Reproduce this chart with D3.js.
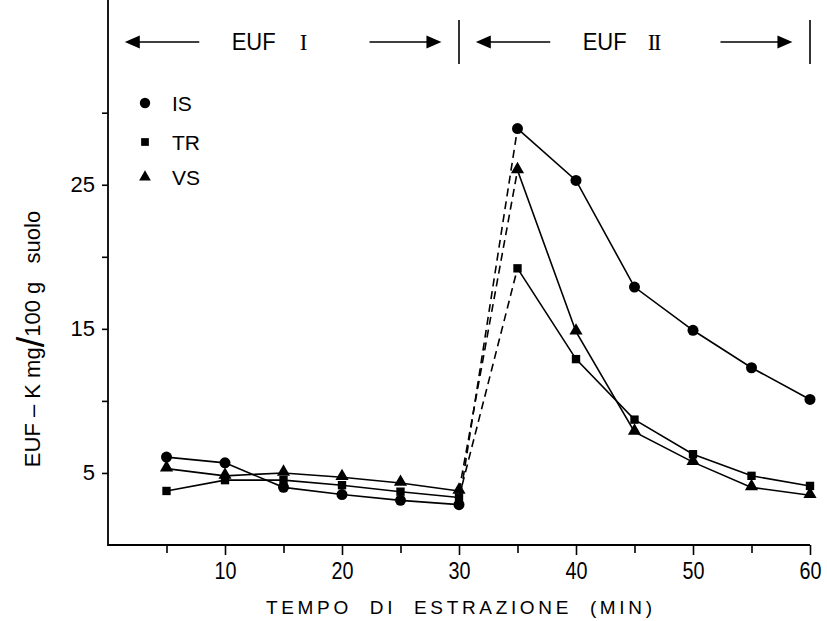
<!DOCTYPE html>
<html>
<head>
<meta charset="utf-8">
<script src="https://cdn.jsdelivr.net/npm/d3@7"></script>
<style>
  html, body { margin: 0; padding: 0; background: #fff; }
  svg { display: block; }
  text { fill: #000; }
</style>
</head>
<body>
<script>
// Extraction times (minutes)
const times = [5, 10, 15, 20, 25, 30, 35, 40, 45, 50, 55, 60];

// EUF-K (mg / 100 g soil) per soil
const valuesIS = [6.1, 5.7, 4.0, 3.5, 3.1, 2.8, 28.9, 25.3, 17.9, 14.9, 12.3, 10.1];
const valuesTR = [3.75, 4.5, 4.5, 4.15, 3.7, 3.3, 19.2, 12.9, 8.7, 6.3, 4.8, 4.1];
const valuesVS = [5.3, 4.8, 5.0, 4.7, 4.3, 3.75, 26.0, 14.8, 7.85, 5.75, 4.0, 3.45];

const seriesNames = ["IS", "TR", "VS"];
const seriesShapes = ["circle", "square", "triangle"];

const xTickValues = [5, 10, 15, 20, 25, 30, 35, 40, 45, 50, 55, 60];
const xTickLabels = [10, 20, 30, 40, 50, 60];
const yTickValues = [5, 10, 15, 20, 25, 30];
const yTickLabels = [5, 15, 25];

// Phase bands drawn in the header
const phases = [
  { label: "EUF", numeral: "I", from: 0, to: 30 },
  { label: "EUF", numeral: "II", from: 30, to: 60 }
];

const W = 827, H = 621;
const sans = "'Liberation Sans', Arial, Helvetica, sans-serif";

const svg = d3.select("body").append("svg")
  .attr("width", W).attr("height", H)
  .attr("viewBox", `0 0 ${W} ${H}`);

svg.append("rect").attr("width", W).attr("height", H).attr("fill", "#fff");

const x = d3.scaleLinear().domain([0, 60]).range([108, 810]);
const y = d3.scaleLinear().domain([0, 30]).range([545, 112.7]);

// ---- axes ----
const xAxis = d3.axisBottom(x)
  .tickValues(xTickValues)
  .tickSize(10)
  .tickPadding(6)
  .tickFormat(d => xTickLabels.includes(d) ? String(d) : "");

const gx = svg.append("g").attr("transform", `translate(0,${y(0)})`).call(xAxis);
gx.select(".domain").remove();
gx.selectAll(".tick line")
  .attr("stroke", "#000").attr("stroke-width", 1.6)
  .attr("y2", d => xTickLabels.includes(d) ? 10 : 8);
// condensed digits
gx.selectAll(".tick text")
  .attr("font-family", sans).attr("font-size", 23)
  .attr("dy", "0.72em").attr("y", 17)
  .attr("textLength", d => xTickLabels.includes(d) ? 22 : null)
  .attr("lengthAdjust", "spacingAndGlyphs");
gx.append("line")
  .attr("x1", x(0)).attr("x2", x(60))
  .attr("stroke", "#000").attr("stroke-width", 1.8);

const yAxis = d3.axisLeft(y)
  .tickValues(yTickValues)
  .tickSize(6)
  .tickPadding(7)
  .tickFormat(d => yTickLabels.includes(d) ? String(d) : "");

const gy = svg.append("g").attr("transform", `translate(${x(0)},0)`).call(yAxis);
gy.select(".domain").remove();
gy.selectAll(".tick line").attr("stroke", "#000").attr("stroke-width", 1.6);
gy.selectAll(".tick text")
  .attr("font-family", sans).attr("font-size", 22);
gy.append("line")
  .attr("y1", y(0) + 1).attr("y2", 0)
  .attr("stroke", "#000").attr("stroke-width", 1.8);

// ---- axis titles ----
svg.append("text")
  .attr("x", x(30)).attr("y", 614)
  .attr("text-anchor", "middle")
  .attr("font-family", sans).attr("font-size", 19)
  .attr("textLength", 386).attr("lengthAdjust", "spacing")
  .style("white-space", "pre")
  .text("TEMPO  DI  ESTRAZIONE  (MIN)");

const yTitle = svg.append("text")
  .attr("transform", `translate(40,339) rotate(-90)`)
  .attr("text-anchor", "middle")
  .attr("font-family", sans).attr("font-size", 22)
  .style("white-space", "pre");
yTitle.append("tspan").text("EUF – K mg");
yTitle.append("tspan").attr("font-size", 38).attr("dy", 4).text("/");
yTitle.append("tspan").attr("dy", -4).text("100 g   suolo");

// ---- header: phases with arrows ----
const header = svg.append("g");
const hy = 42;
function arrowHead(tipX, dir) {
  const len = 15, half = 6.5;
  return `M${tipX},${hy} L${tipX - dir * len},${hy - half} L${tipX - dir * len},${hy + half} Z`;
}
phases.forEach(p => {
  const a = x(p.from), b = x(p.to);
  const span = b - a;
  header.append("line")
    .attr("x1", b).attr("x2", b).attr("y1", 20).attr("y2", 64)
    .attr("stroke", "#000").attr("stroke-width", 1.6);
  const lTip = a + span * 0.045 + 1, lEnd = a + span * 0.26;
  const rStart = a + span * 0.745, rTip = a + span * 0.95;
  header.append("line").attr("x1", lTip + 10).attr("x2", lEnd)
    .attr("y1", hy).attr("y2", hy).attr("stroke", "#000").attr("stroke-width", 1.6);
  header.append("path").attr("d", arrowHead(lTip, -1)).attr("fill", "#000");
  header.append("line").attr("x1", rStart).attr("x2", rTip - 10)
    .attr("y1", hy).attr("y2", hy).attr("stroke", "#000").attr("stroke-width", 1.6);
  header.append("path").attr("d", arrowHead(rTip, 1)).attr("fill", "#000");
  header.append("text")
    .attr("x", a + span * 0.415).attr("y", hy + 8)
    .attr("text-anchor", "middle")
    .attr("font-family", sans).attr("font-size", 23)
    .attr("textLength", 44).attr("lengthAdjust", "spacingAndGlyphs")
    .text(p.label);
  header.append("text")
    .attr("x", a + span * 0.555).attr("y", hy + 8)
    .attr("text-anchor", "middle")
    .attr("font-family", "'Liberation Serif', 'DejaVu Serif', serif").attr("font-size", 23)
    .attr("letter-spacing", -1.5)
    .text(p.numeral);
});

// ---- series ----
const series = seriesNames.map((name, i) => ({
  name,
  shape: seriesShapes[i],
  values: [valuesIS, valuesTR, valuesVS][i].map((v, j) => ({ t: times[j], v }))
}));

const line = d3.line().x(d => x(d.t)).y(d => y(d.v));
const plot = svg.append("g");

series.forEach(s => {
  const first = s.values.filter(d => d.t <= 30);
  const bridge = s.values.filter(d => d.t >= 30 && d.t <= 35);
  const second = s.values.filter(d => d.t >= 35);
  plot.append("path").attr("d", line(first))
    .attr("fill", "none").attr("stroke", "#000").attr("stroke-width", 1.6);
  plot.append("path").attr("d", line(bridge))
    .attr("fill", "none").attr("stroke", "#000").attr("stroke-width", 1.6)
    .attr("stroke-dasharray", "8,5");
  plot.append("path").attr("d", line(second))
    .attr("fill", "none").attr("stroke", "#000").attr("stroke-width", 1.6);
});

const symbolType = { circle: d3.symbolCircle, square: d3.symbolSquare, triangle: d3.symbolTriangle };
const symbolSize = { circle: 95, square: 70, triangle: 75 };

series.forEach(s => {
  plot.selectAll(null).data(s.values).enter().append("path")
    .attr("d", d3.symbol().type(symbolType[s.shape]).size(symbolSize[s.shape])())
    .attr("transform", d => `translate(${x(d.t)},${y(d.v) + (s.shape === "triangle" ? -1 : 0)})`)
    .attr("fill", "#000");
});

// ---- legend ----
const legend = svg.append("g");
series.forEach((s, i) => {
  const ly = [103, 142, 177][i];
  legend.append("path")
    .attr("d", d3.symbol().type(symbolType[s.shape]).size(s.shape === "circle" ? 85 : 60)())
    .attr("transform", `translate(145,${ly})`)
    .attr("fill", "#000");
  legend.append("text")
    .attr("x", 172).attr("y", ly + 7.5)
    .attr("font-family", sans).attr("font-size", 21)
    .text(s.name);
});
</script>
</body>
</html>
